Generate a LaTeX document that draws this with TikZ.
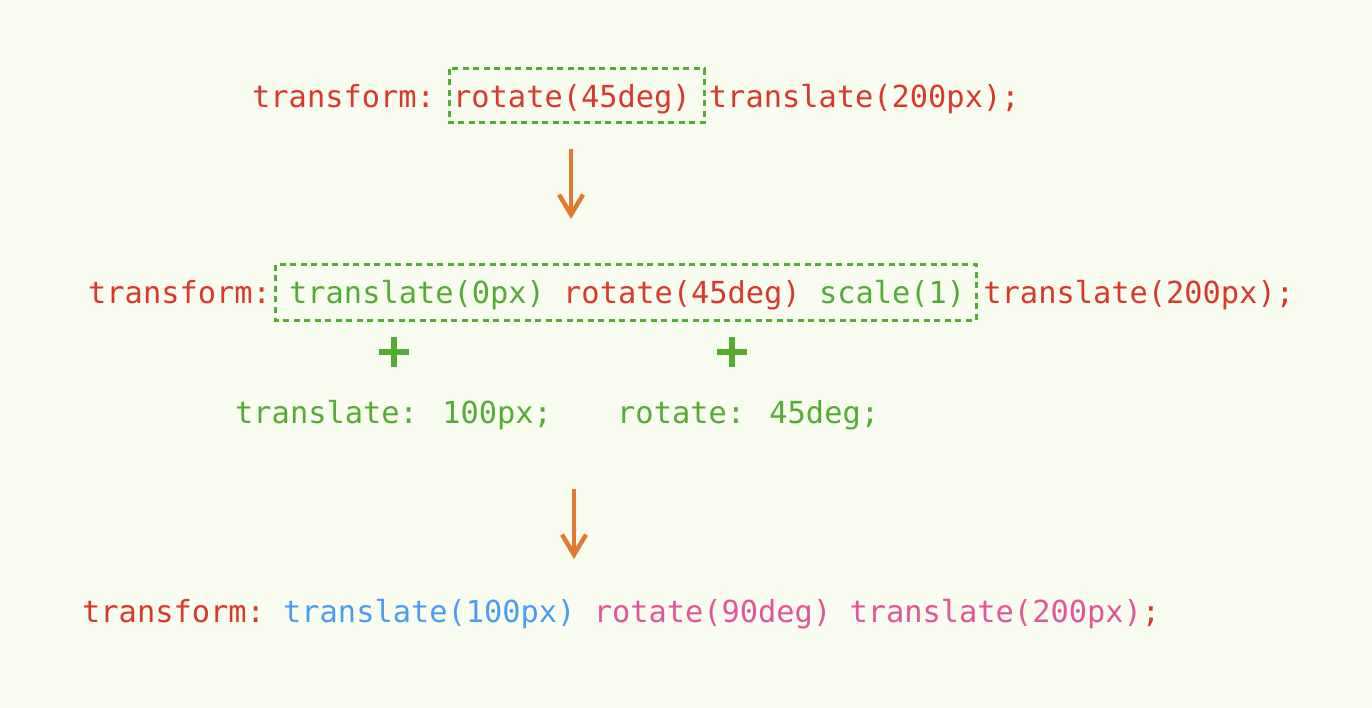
\documentclass[tikz,border=0pt]{standalone}
\usepackage{fontspec}
\newfontfamily\codefont{DejaVu Sans Mono}
\usetikzlibrary{arrows.meta}
\definecolor{bgc}{HTML}{F9FDEF}
\definecolor{cred}{HTML}{D9392B}
\definecolor{cgreen}{HTML}{55AC35}
\definecolor{cblue}{HTML}{4A9DF0}
\definecolor{cpink}{HTML}{E4549B}
\definecolor{corange}{HTML}{E27B30}
\tikzset{
  code/.style={inner sep=0pt, anchor=base west, font=\codefont\fontsize{30.35}{36}\selectfont},
  dbox/.style={draw=cgreen, line width=3pt, dash pattern=on 6pt off 4.5pt},
  flow/.style={draw=corange, line width=4.5pt, -{Straight Barb[length=20pt,width=24pt,line width=4.5pt]}},
  plus/.style={draw=cgreen, line width=6pt},
}
\begin{document}
\begin{tikzpicture}[x=1pt,y=-1pt]
\fill[bgc] (0,0) rectangle (1372,708);
\useasboundingbox (0,0) rectangle (1372,708);
\def\cw{18.27}
% line 1
\node[code, text=cred] (l1a) at (252,108) {transform:};
\node[code, text=cred] (l1b) at (252+11*\cw,108) {rotate(45deg)};
\node[code, text=cred] (l1c) at (252+25*\cw,108) {translate(200px);};
\draw[dbox] (449,69) rectangle (704,123);
% arrow 1
\coordinate (a1s) at (571,149);
\coordinate (a1e) at (571,219);
\draw[flow] (a1s) -- (a1e);
% line 2
\node[code, text=cred] (l2a) at (88,304) {transform:};
\node[code, text=cgreen] (l2b) at (88+11*\cw,304) {translate(0px)};
\node[code, text=cred] (l2c) at (88+26*\cw,304) {rotate(45deg)};
\node[code, text=cgreen] (l2d) at (88+40*\cw,304) {scale(1)};
\node[code, text=cred] (l2e) at (88+49*\cw,304) {translate(200px);};
\draw[dbox] (275,265) rectangle (976,320);
% plus signs
\draw[plus] (379,352) -- (409,352) (394,337) -- (394,367);
\draw[plus] (717,352) -- (747,352) (732,337) -- (732,367);
% labels
\node[code, text=cgreen] (lb1) at (235,423) {translate: 100px;};
\node[code, text=cgreen] (lb2) at (617,423) {rotate: 45deg;};
% arrow 2
\coordinate (a2s) at (574,489);
\coordinate (a2e) at (574,559);
\draw[flow] (a2s) -- (a2e);
% line 3
\node[code, text=cred] (l3a) at (82,622) {transform:};
\node[code, text=cblue] (l3b) at (82+11*\cw,622) {translate(100px)};
\node[code, text=cpink] (l3c) at (82+28*\cw,622) {rotate(90deg)};
\node[code, text=cpink] (l3d) at (82+42*\cw,622) {translate(200px)};
\node[code, text=cred] (l3e) at (82+58*\cw,622) {;};
\end{tikzpicture}
\end{document}
